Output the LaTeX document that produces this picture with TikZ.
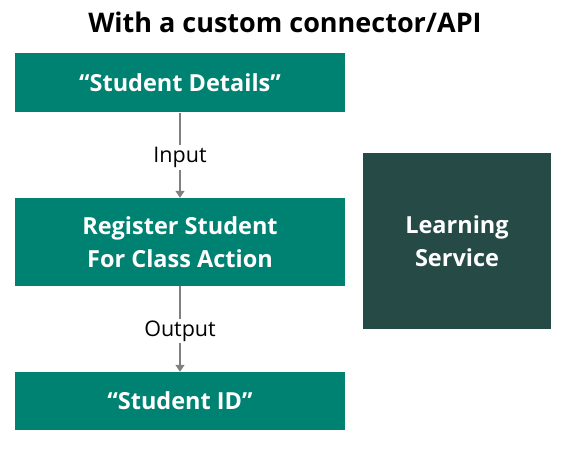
\documentclass[tikz,border=0pt]{standalone}
\usepackage{fontspec}
\setmainfont{Open Sans}
\usetikzlibrary{arrows.meta}
\definecolor{teal1}{HTML}{008272}
\definecolor{dark1}{HTML}{264B47}
\definecolor{arrowgray}{HTML}{808080}
\tikzset{
  box/.style={fill=teal1, text=white, minimum width=330pt, inner sep=0pt, align=center, font=\bfseries\fontsize{23.5}{32.5}\selectfont},
  darkbox/.style={fill=dark1, text=white, minimum width=188pt, minimum height=176pt, inner sep=0pt, align=center, font=\bfseries\fontsize{23.5}{32.5}\selectfont},
  conn/.style={draw=arrowgray, line width=1.5pt, -{Triangle[width=9pt,length=7pt]}},
  lbl/.style={fill=white, text=black, inner sep=2pt, yshift=-2pt, font=\fontsize{21.5}{24}\selectfont}
}
\begin{document}
\begin{tikzpicture}[x=1pt,y=-1pt]
\useasboundingbox (0,0) rectangle (565,449);
\node[anchor=base, inner sep=0pt, font=\bfseries\fontsize{27}{30}\selectfont] (title) at (285,33) {With a custom connector/API};
\node[box, minimum height=59pt] (sd) at (180,83) {“Student Details”};
\node[box, minimum height=88pt] (reg) at (180,242) {Register Student\\For Class Action};
\node[box, minimum height=58pt] (sid) at (180,401) {“Student ID”};
\node[darkbox] (ls) at (457,241) {Learning\\Service};
\draw[conn] (sd.south) -- node[lbl] (in) {Input} (reg.north);
\draw[conn] (reg.south) -- node[lbl] (out) {Output} (sid.north);
\end{tikzpicture}
\end{document}
